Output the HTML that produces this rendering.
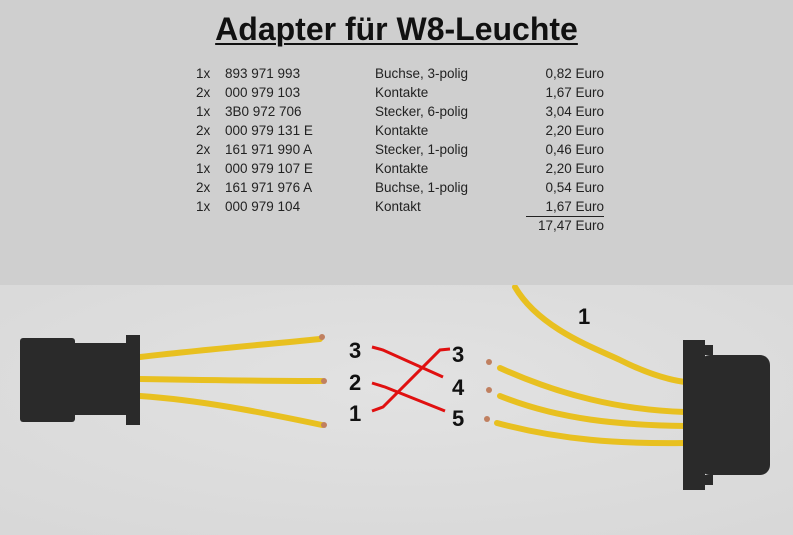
<!DOCTYPE html>
<html><head><meta charset="utf-8"><style>
html,body{margin:0;padding:0;width:793px;height:535px;overflow:hidden;background:#cecece;font-family:"Liberation Sans",sans-serif;}
#top{position:absolute;left:0;top:0;width:793px;height:285px;background:#cfcfcf;}
h1{position:absolute;left:0;width:793px;top:11px;margin:0;text-align:center;font-size:32px;font-weight:bold;text-decoration:underline;text-decoration-thickness:2px;text-underline-offset:3px;color:#111;}
.r{position:absolute;font-size:13.5px;color:#222;line-height:19px;white-space:nowrap;}
</style></head><body>
<div id="top"></div>
<h1>Adapter für W8-Leuchte</h1>
<div class="r" style="left:196px;top:64px">1x<br>2x<br>1x<br>2x<br>2x<br>1x<br>2x<br>1x</div>
<div class="r" style="left:225px;top:64px">893 971 993<br>000 979 103<br>3B0 972 706<br>000 979 131 E<br>161 971 990 A<br>000 979 107 E<br>161 971 976 A<br>000 979 104</div>
<div class="r" style="left:375px;top:64px">Buchse, 3-polig<br>Kontakte<br>Stecker, 6-polig<br>Kontakte<br>Stecker, 1-polig<br>Kontakte<br>Buchse, 1-polig<br>Kontakt</div>
<div class="r" style="right:189px;top:64px;text-align:right">0,82 Euro<br>1,67 Euro<br>3,04 Euro<br>2,20 Euro<br>0,46 Euro<br>2,20 Euro<br>0,54 Euro<br>1,67 Euro<br>17,47 Euro</div>
<div style="position:absolute;left:526px;top:216px;width:78px;height:1px;background:#222"></div>
<svg style="position:absolute;left:0;top:285px" width="793" height="250" viewBox="0 285 793 250">
<defs><radialGradient id="g" cx="0.5" cy="0.4" r="0.9"><stop offset="0" stop-color="#e2e2e2"/><stop offset="1" stop-color="#d6d6d6"/></radialGradient></defs>
<rect x="0" y="285" width="793" height="250" fill="url(#g)"/>
<g fill="none" stroke="#e8c020" stroke-width="6" stroke-linecap="round">
<path d="M140 357 C200 350 260 345 320 339"/>
<path d="M140 379 C200 380 260 381 322 381"/>
<path d="M140 396 C200 400 260 412 322 425"/>
<path d="M515 287 C540 330 600 350 620 360 C650 375 670 380 685 382"/>
<path d="M500 368 C560 395 620 410 685 412"/>
<path d="M500 396 C560 420 620 425 685 426"/>
<path d="M497 423 C560 440 620 444 685 443"/>
</g>
<g fill="#c08060"><circle cx="322" cy="337" r="3"/><circle cx="324" cy="381" r="3"/><circle cx="324" cy="425" r="3"/><circle cx="489" cy="362" r="3"/><circle cx="489" cy="390" r="3"/><circle cx="487" cy="419" r="3"/></g>
<g fill="#2a2a2a"><rect x="20" y="338" width="55" height="84" rx="3"/><rect x="70" y="343" width="60" height="72"/><rect x="126" y="335" width="14" height="90"/>
<rect x="683" y="340" width="22" height="150"/><rect x="700" y="355" width="70" height="120" rx="10"/><rect x="683" y="345" width="30" height="10"/><rect x="683" y="475" width="30" height="10"/></g>
<g fill="none" stroke="#e01010" stroke-width="3">
<path d="M372 347 L383 350 L443 377"/><path d="M372 383 L385 387 L445 411"/>
<path d="M372 411 L383 407 L440 350 L450 349"/>
</g>
<g font-family="Liberation Sans" font-weight="bold" font-size="22" fill="#111">
<text x="349" y="358">3</text><text x="349" y="390">2</text><text x="349" y="421">1</text>
<text x="452" y="362">3</text><text x="452" y="395">4</text><text x="452" y="426">5</text>
<text x="578" y="324">1</text></g>
</svg>
</body></html>
